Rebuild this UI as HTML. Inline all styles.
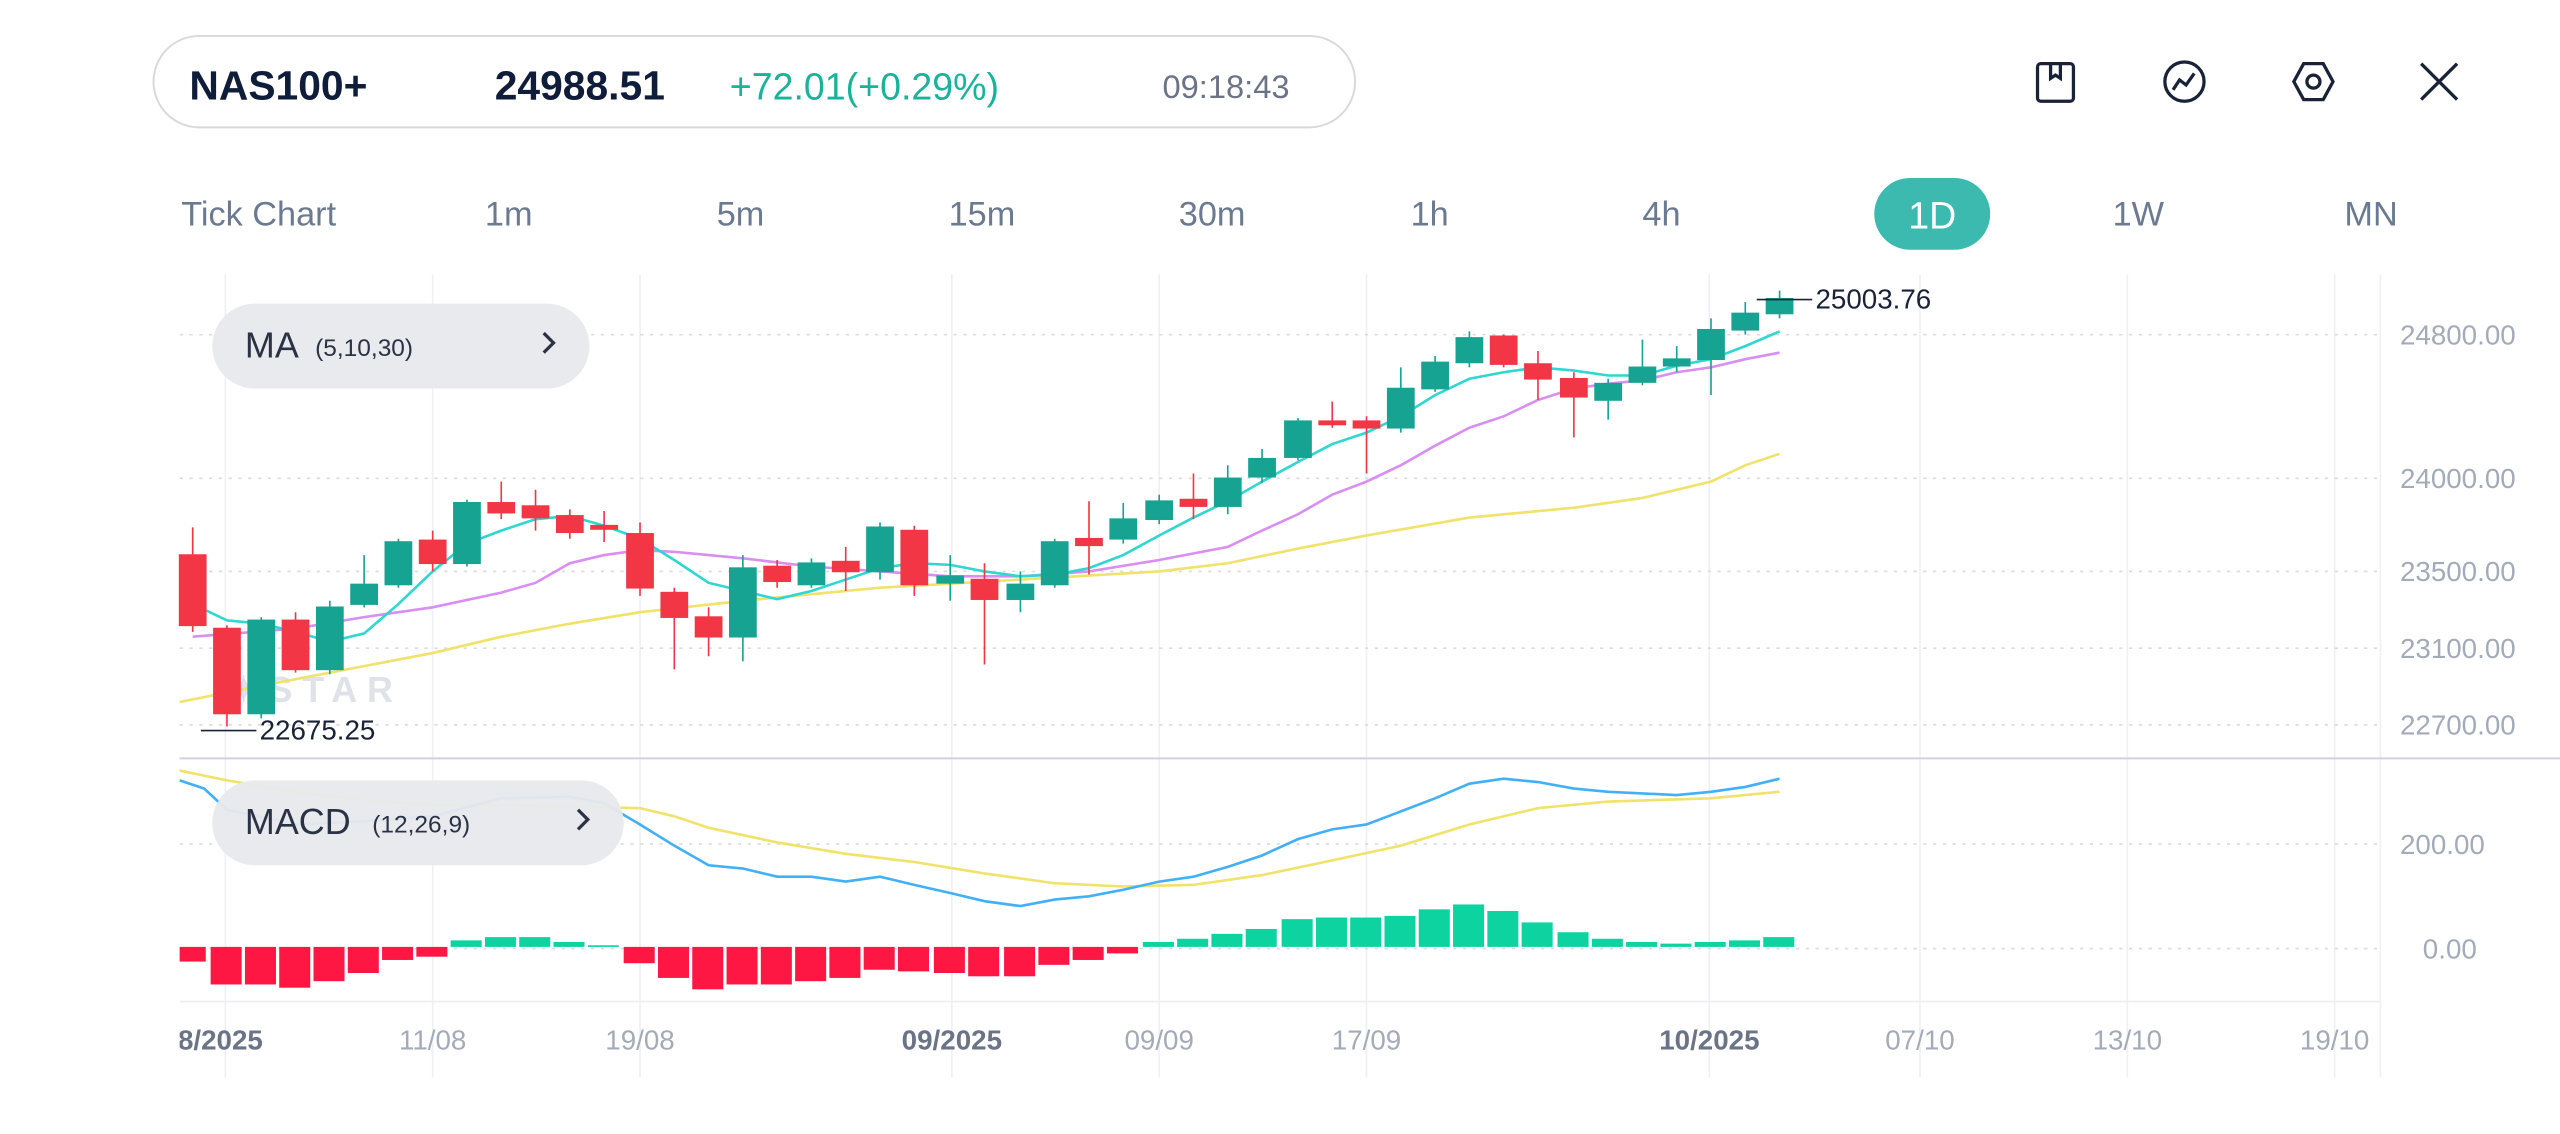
<!DOCTYPE html>
<html><head><meta charset="utf-8"><style>
html,body{margin:0;padding:0;background:#fff;}
svg{display:block;font-family:"Liberation Sans",sans-serif;}
</style></head><body>
<svg width="2560" height="1134" viewBox="0 0 1568 694.6" xmlns="http://www.w3.org/2000/svg">
<rect width="1568" height="695" fill="#fff"/>
<rect x="94" y="22" width="736" height="56" rx="28" fill="#fff" stroke="#d6d9de" stroke-width="1.2"/>
<text x="116" y="61" font-size="25" font-weight="bold" fill="#0f1d3a">NAS100+</text>
<text x="303" y="61" font-size="25" font-weight="bold" fill="#0f1d3a">24988.51</text>
<text x="447" y="61" font-size="23" fill="#19b39b">+72.01(+0.29%)</text>
<text x="712" y="60" font-size="20" fill="#6b7486">09:18:43</text>
<g fill="none" stroke="#1a2238" stroke-width="2">
<rect x="1248" y="39" width="22" height="23" rx="2"/><path d="M1256 39v9l3-2 3 2v-9"/>
<circle cx="1338" cy="50" r="12"/><path d="M1331 55l4-6 4 3 5-7"/>
<path d="M1411 39h12l6 11-6 11h-12l-6-11z"/><circle cx="1417" cy="50" r="4"/>
<path d="M1483 39l22 22M1505 39l-22 22"/>
</g>
<g font-size="21" fill="#6b7a90">
<text x="111" y="138">Tick Chart</text>
<text x="297" y="138">1m</text>
<text x="439" y="138">5m</text>
<text x="581" y="138">15m</text>
<text x="722" y="138">30m</text>
<text x="864" y="138">1h</text>
<text x="1006" y="138">4h</text>
<text x="1294" y="138">1W</text>
<text x="1436" y="138">MN</text>
</g>
<rect x="1148" y="109" width="71" height="44" rx="22" fill="#3dbab0"/>
<text x="1183.5" y="140" font-size="23" fill="#fff" text-anchor="middle">1D</text>
<g stroke="#eef0f3" stroke-width="1">
<path d="M138 168V660M265 168V660M392 168V660M583 168V660M710 168V660M837 168V660M1047 168V660M1176 168V660M1303 168V660M1430 168V660"/>
<path d="M1458 168V660"/>
</g>
<g stroke="#d9dce2" stroke-width="1" stroke-dasharray="2,4">
<path d="M110 205H1458M110 293H1458M110 350H1458M110 397H1458M110 444H1458M110 517H1458M110 581H1458"/>
</g>
<path d="M110 464.5H1568" stroke="#cfd2e0" stroke-width="1.2"/>
<path d="M110 613.5H1458" stroke="#eceef2" stroke-width="1"/>
<g font-size="17" fill="#a4abb8">
<text x="1470" y="211">24800.00</text>
<text x="1470" y="299">24000.00</text>
<text x="1470" y="356">23500.00</text>
<text x="1470" y="403">23100.00</text>
<text x="1470" y="450">22700.00</text>
<text x="1470" y="523">200.00</text>
<text x="1484" y="587">0.00</text>
</g>
<g font-size="17" fill="#a4abb8" text-anchor="middle">
<text x="265" y="643">11/08</text>
<text x="392" y="643">19/08</text>
<text x="583" y="643" fill="#6b7486" font-weight="bold">09/2025</text>
<text x="710" y="643">09/09</text>
<text x="837" y="643">17/09</text>
<text x="1047" y="643" fill="#6b7486" font-weight="bold">10/2025</text>
<text x="1176" y="643">07/10</text>
<text x="1303" y="643">13/10</text>
<text x="1430" y="643">19/10</text>
</g>
<text x="109" y="643" font-size="17" fill="#6b7486" font-weight="bold">8/2025</text>
<rect x="100" y="620" width="10" height="30" fill="#fff"/>
<text x="140" y="430" font-size="22" font-weight="bold" fill="#dfe2e6" letter-spacing="6">✦STAR</text>
<g fill="none" stroke-width="1.6">
<polyline stroke="#f0e26a" points="110,430 160,420 223,408 265,400 307,390 349,382 392,375 455,368 539,360 625,355 710,350 752,345 795,336 837,328 900,317 964,311 1006,305 1048,295 1069,285 1090,278"/>
<polyline stroke="#d98ff0" points="118,390 181,385 223,378 265,372 307,363 328,357 349,345 370,340 392,337 413,338 434,340 455,342 497,347 539,350 582,353 625,353 667,350 710,343 752,335 773,325 795,315 816,303 837,295 858,285 879,273 900,262 921,255 942,245 964,238 985,235 1006,233 1027,228 1048,225 1069,220 1090,216"/>
<polyline stroke="#2fd7d0" points="110,367 118,370 139,380 160,382 181,387 202,393 223,388 244,370 265,350 286,333 307,325 328,318 349,316 370,322 392,330 413,343 434,357 455,362 476,367 497,362 518,355 539,348 560,345 582,346 603,350 625,353 646,352 667,348 688,340 710,328 731,317 752,307 773,295 795,283 816,272 837,265 858,255 879,242 900,232 921,228 942,225 964,227 985,230 1006,230 1027,224 1048,220 1069,212 1090,203"/>
</g>
<g>
<g stroke="#f23645" fill="#f23645">
<path d="M118 323V387M139 383V445M181 375V412M265 325V350M307 295V318M328 300V325M349 312V330M370 313V332M392 320V365M413 360V410M434 372V402M476 343V360M518 335V362M560 322V365M603 345V407M667 307V352M731 290V318M816 246V262M837 255V290M921 205V225M942 215V245M964 228V268" fill="none"/>
<rect x="110" y="340" width="16" height="43"/><rect x="131" y="385" width="16" height="52"/><rect x="173" y="380" width="16" height="30"/><rect x="257" y="331" width="16" height="14"/><rect x="299" y="308" width="16" height="6"/><rect x="320" y="310" width="16" height="7"/><rect x="341" y="316" width="16" height="10"/><rect x="362" y="322" width="16" height="2"/><rect x="384" y="327" width="16" height="33"/><rect x="405" y="363" width="16" height="15"/><rect x="426" y="378" width="16" height="12"/><rect x="468" y="347" width="16" height="9"/><rect x="510" y="344" width="16" height="6"/><rect x="552" y="325" width="16" height="33"/><rect x="595" y="355" width="16" height="12"/><rect x="659" y="330" width="16" height="4"/><rect x="723" y="306" width="16" height="4"/><rect x="808" y="258" width="16" height="2"/><rect x="829" y="258" width="16" height="4"/><rect x="913" y="206" width="16" height="17"/><rect x="934" y="223" width="16" height="9"/><rect x="956" y="232" width="16" height="11"/>
</g>
<g stroke="#16a392" fill="#16a392">
<path d="M160 378V440M202 368V413M223 340V372M244 330V360M286 306V347M455 340V405M497 342V360M539 320V355M582 340V368M625 350V375M646 330V360M688 308V333M710 303V321M752 285V315M773 275V296M795 256V282M858 225V265M879 218V240M900 203V225M985 232V257M1006 208V236M1027 212V228M1048 195V242M1069 185V205M1090 178V195" fill="none"/>
<rect x="152" y="380" width="16" height="57"/><rect x="194" y="372" width="16" height="38"/><rect x="215" y="358" width="16" height="12"/><rect x="236" y="332" width="16" height="26"/><rect x="278" y="308" width="16" height="37"/><rect x="447" y="348" width="16" height="42"/><rect x="489" y="345" width="16" height="13"/><rect x="531" y="323" width="16" height="27"/><rect x="574" y="353" width="16" height="4"/><rect x="617" y="358" width="16" height="9"/><rect x="638" y="332" width="16" height="26"/><rect x="680" y="318" width="16" height="12"/><rect x="702" y="307" width="16" height="11"/><rect x="744" y="293" width="16" height="17"/><rect x="765" y="281" width="16" height="11"/><rect x="787" y="258" width="16" height="22"/><rect x="850" y="238" width="16" height="24"/><rect x="871" y="222" width="16" height="16"/><rect x="892" y="207" width="16" height="15"/><rect x="977" y="235" width="16" height="10"/><rect x="998" y="225" width="16" height="9"/><rect x="1019" y="220" width="16" height="4"/><rect x="1040" y="202" width="16" height="18"/><rect x="1061" y="192" width="16" height="10"/><rect x="1082" y="183" width="16" height="9"/>
</g>
</g>
<path d="M1076 183.5H1110M123 447.5H157" stroke="#1a2238" stroke-width="1"/>
<text x="1112" y="189" font-size="17" fill="#1a2238">25003.76</text>
<text x="159" y="453" font-size="17" fill="#1a2238">22675.25</text>
<rect x="130" y="186" width="231" height="52" rx="26" fill="#e8e9ec" opacity="0.95"/>
<text x="150" y="219" font-size="22" fill="#2a3245">MA</text>
<text x="193" y="218" font-size="15" fill="#2a3245">(5,10,30)</text>
<path d="M333 204l6 6-6 6" fill="none" stroke="#2a3245" stroke-width="2"/>
<g fill="#ff1744">
<rect x="110" y="580" width="16" height="9"/><rect x="129" y="580" width="19" height="23"/><rect x="150" y="580" width="19" height="23"/><rect x="171" y="580" width="19" height="25"/><rect x="192" y="580" width="19" height="21"/><rect x="213" y="580" width="19" height="16"/><rect x="234" y="580" width="19" height="8"/><rect x="255" y="580" width="19" height="6"/>
<rect x="382" y="580" width="19" height="10"/><rect x="403" y="580" width="19" height="19"/><rect x="424" y="580" width="19" height="26"/><rect x="445" y="580" width="19" height="23"/><rect x="466" y="580" width="19" height="23"/><rect x="487" y="580" width="19" height="21"/><rect x="508" y="580" width="19" height="19"/><rect x="529" y="580" width="19" height="14"/><rect x="550" y="580" width="19" height="15"/><rect x="572" y="580" width="19" height="16"/><rect x="593" y="580" width="19" height="18"/><rect x="615" y="580" width="19" height="18"/><rect x="636" y="580" width="19" height="11"/><rect x="657" y="580" width="19" height="8"/><rect x="678" y="580" width="19" height="4"/>
</g>
<g fill="#0dd3a0">
<rect x="276" y="576" width="19" height="4"/><rect x="297" y="574" width="19" height="6"/><rect x="318" y="574" width="19" height="6"/><rect x="339" y="577" width="19" height="3"/><rect x="360" y="579" width="19" height="1"/>
<rect x="700" y="577" width="19" height="3"/><rect x="721" y="575" width="19" height="5"/><rect x="742" y="572" width="19" height="8"/><rect x="763" y="569" width="19" height="11"/><rect x="785" y="563" width="19" height="17"/><rect x="806" y="562" width="19" height="18"/><rect x="827" y="562" width="19" height="18"/><rect x="848" y="561" width="19" height="19"/><rect x="869" y="557" width="19" height="23"/><rect x="890" y="554" width="19" height="26"/><rect x="911" y="558" width="19" height="22"/><rect x="932" y="565" width="19" height="15"/><rect x="954" y="571" width="19" height="9"/><rect x="975" y="575" width="19" height="5"/><rect x="996" y="577" width="19" height="3"/><rect x="1017" y="578" width="19" height="2"/><rect x="1038" y="577" width="19" height="3"/><rect x="1059" y="576" width="19" height="4"/><rect x="1080" y="574" width="19" height="6"/>
</g>
<g fill="none" stroke-width="1.6">
<polyline stroke="#f0e26a" points="110,472 139,478 181,485 223,490 265,493 307,493 349,494 392,495 413,500 434,507 476,516 518,523 560,528 603,535 646,541 688,543 731,542 773,536 816,527 858,518 900,505 942,495 985,491 1048,489 1090,485"/>
<polyline stroke="#42b0f5" points="110,478 125,483 139,496 181,505 223,503 265,500 307,489 349,488 370,492 392,505 413,518 434,530 455,532 476,537 497,537 518,540 539,537 560,542 582,547 603,552 625,555 646,551 667,549 688,545 710,540 731,537 752,531 773,524 795,514 816,508 837,505 858,497 879,489 900,480 921,477 942,479 964,483 985,485 1006,486 1027,487 1048,485 1069,482 1090,477"/>
</g>
<rect x="130" y="478" width="252" height="52" rx="26" fill="#e8e9ec" opacity="0.95"/>
<text x="150" y="511" font-size="22" fill="#2a3245">MACD</text>
<text x="228" y="510" font-size="15" fill="#2a3245">(12,26,9)</text>
<path d="M354 496l6 6-6 6" fill="none" stroke="#2a3245" stroke-width="2"/>
</svg>
</body></html>
